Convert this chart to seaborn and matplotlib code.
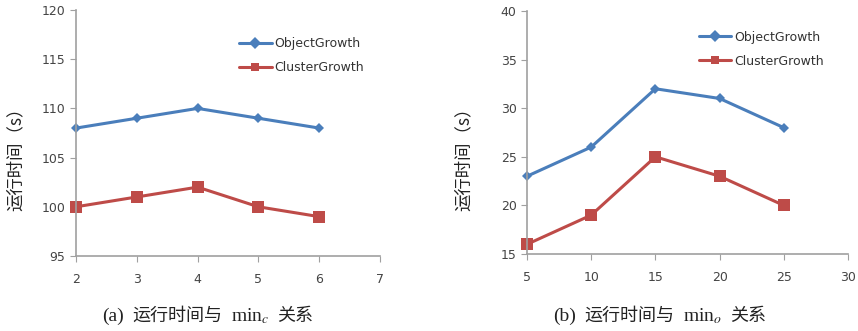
import matplotlib
matplotlib.use("Agg")
import matplotlib.pyplot as plt
from matplotlib.offsetbox import TextArea, HPacker, AnchoredOffsetbox
import seaborn as sns
import pandas as pd

sns.set_style("white")
plt.rcParams['font.family'] = ['DejaVu Sans', 'Noto Sans CJK SC']
plt.rcParams['mathtext.fontset'] = 'stix'

# Data
x_a = [2, 3, 4, 5, 6]
obj_a = [108, 109, 110, 109, 108]
clu_a = [100, 101, 102, 100, 99]
x_b = [5, 10, 15, 20, 25]
obj_b = [23, 26, 32, 31, 28]
clu_b = [16, 19, 25, 23, 20]
series_names = ["ObjectGrowth", "ClusterGrowth"]
ylabel = "运行时间（s）"
caption_a = ["(a)", "运行时间与", r"min$_c$", "关系"]
caption_b = ["(b)", "运行时间与", r"min$_o$", "关系"]

blue = "#4a7ebb"
red = "#be4b48"

fig = plt.figure(figsize=(8.58, 3.31), dpi=100)
ax1 = fig.add_axes([76/858, 1-256/331, (380-76)/858, (256-10)/331])
ax2 = fig.add_axes([527/858, 1-254/331, (848-527)/858, (254-11)/331])

def draw(ax, x, obj, clu, xlim, xticks, ylim, yticks, legx):
    df = pd.DataFrame({"x": x + x, "y": obj + clu,
                       "s": [series_names[0]]*len(x) + [series_names[1]]*len(x)})
    sns.lineplot(data=df, x="x", y="y", hue="s", style="s",
                 palette=[blue, red], markers=["D", "s"], dashes=False,
                 markersize=6, linewidth=2.2, markeredgewidth=0, ax=ax, clip_on=False)
    lines = ax.get_lines()
    if len(lines) >= 2:
        lines[0].set_markersize(5)
        lines[1].set_markersize(8)
    ax.set_xlim(*xlim)
    ax.set_ylim(*ylim)
    ax.set_xticks(xticks)
    ax.set_yticks(yticks)
    ax.set_xlabel("")
    ax.set_ylabel(ylabel, family=['Noto Sans CJK SC'], fontsize=12.5, color="#222222")
    for s in ["top", "right"]:
        ax.spines[s].set_visible(False)
    for s in ["left", "bottom"]:
        ax.spines[s].set_color("#a0a0a0")
        ax.spines[s].set_linewidth(1.2)
    ax.tick_params(axis="both", which="major", direction="out", length=4,
                   color="#a0a0a0", labelsize=9, labelcolor="#444444", bottom=True, left=True)
    ax.tick_params(axis="x", pad=8)
    leg = ax.legend(loc="upper left", bbox_to_anchor=legx, frameon=False,
                    fontsize=9, handlelength=2.6, labelspacing=0.9, handletextpad=0.2,
                    borderaxespad=0)
    for t in leg.get_texts():
        t.set_color("#333333")

draw(ax1, x_a, obj_a, clu_a, (2, 7), [2, 3, 4, 5, 6, 7], (95, 120), [95, 100, 105, 110, 115, 120], (0.52, 0.91))
draw(ax2, x_b, obj_b, clu_b, (5, 30), [5, 10, 15, 20, 25, 30], (15, 40), [15, 20, 25, 30, 35, 40], (0.52, 0.94))

ax1.yaxis.set_label_coords(-0.17, 0.41)
ax2.yaxis.set_label_coords(-0.17, 0.41)

def caption(parts, cx, cy):
    serif = dict(family='Liberation Serif', size=14, color="#222222")
    cjk = dict(family='Noto Sans CJK SC', size=13, color="#222222")
    boxes = []
    for i, p in enumerate(parts):
        props = cjk if any('\u4e00' <= ch <= '\u9fff' for ch in p) else serif
        boxes.append(TextArea(p, textprops=props))
    pack = HPacker(children=boxes, align="baseline", pad=0, sep=6)
    ab = AnchoredOffsetbox(loc="center", child=pack, frameon=False, pad=0, borderpad=0,
                           bbox_to_anchor=(cx, cy), bbox_transform=fig.transFigure)
    fig.add_artist(ab)

caption(caption_a, 208/858, 1-316/331)
caption(caption_b, 660/858, 1-316/331)

fig.savefig("out.png", dpi=100)
